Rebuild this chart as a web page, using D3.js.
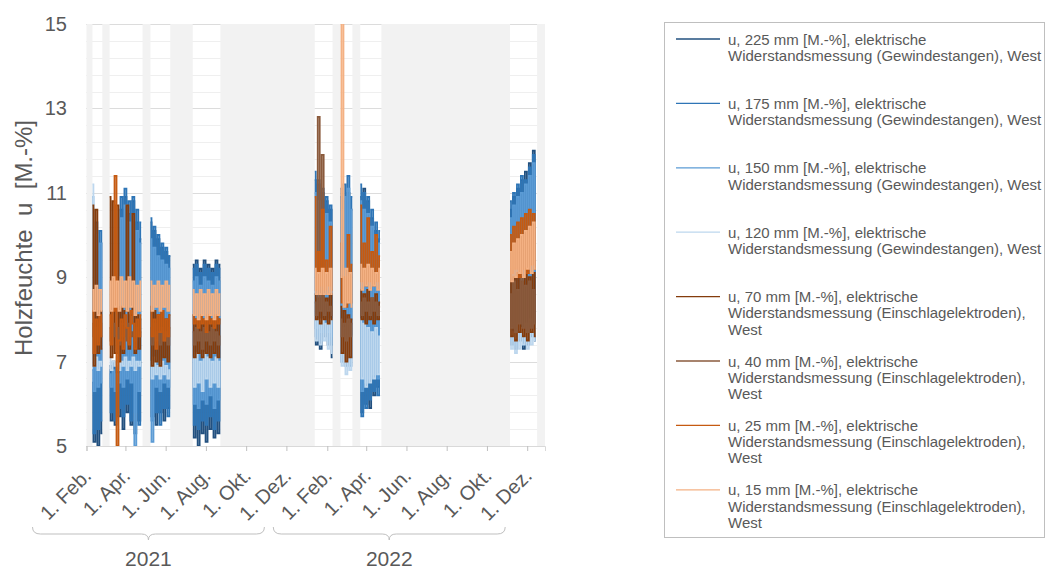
<!DOCTYPE html>
<html>
<head>
<meta charset="utf-8">
<script src="https://cdn.jsdelivr.net/npm/d3@7"></script>
<style>
  body { margin: 0; background: #fff; }
  svg { font-family: "Liberation Sans", Arial, sans-serif; }
  text { fill: #595959; }
</style>
</head>
<body>
<div id="chart"></div>
<script>
// measured periods (white bands); values are sampled every 3 days from the start of each period
const dataPeriods = [
  ['2021-02-10', '2021-02-25'], ['2021-03-08', '2021-04-27'], ['2021-05-09', '2021-06-08'],
  ['2021-07-12', '2021-08-23'], ['2022-01-13', '2022-02-09'], ['2022-02-21', '2022-03-11'],
  ['2022-03-23', '2022-04-24'], ['2022-11-05', '2022-12-16']
];
const stepDays = 3;

const tickDates = ['2021-02-01', '2021-04-01', '2021-06-01', '2021-08-01', '2021-10-01', '2021-12-01',
  '2022-02-01', '2022-04-01', '2022-06-01', '2022-08-01', '2022-10-01', '2022-12-01'];
const tickLabels = ['1. Feb.', '1. Apr.', '1. Jun.', '1. Aug.', '1. Okt.', '1. Dez.',
  '1. Feb.', '1. Apr.', '1. Jun.', '1. Aug.', '1. Okt.', '1. Dez.'];
const years = ['2021', '2022'];
const yTicks = [5, 7, 9, 11, 13, 15];

const seriesNames = [
  'u, 225 mm [M.-%], elektrische|Widerstandsmessung (Gewindestangen), West',
  'u, 175 mm [M.-%], elektrische|Widerstandsmessung (Gewindestangen), West',
  'u, 150 mm [M.-%], elektrische|Widerstandsmessung (Gewindestangen), West',
  'u, 120 mm [M.-%], elektrische|Widerstandsmessung (Gewindestangen), West',
  'u, 70 mm [M.-%], elektrische|Widerstandsmessung (Einschlagelektroden),|West',
  'u, 40 mm [M.-%], elektrische|Widerstandsmessung (Einschlagelektroden),|West',
  'u, 25 mm [M.-%], elektrische|Widerstandsmessung (Einschlagelektroden),|West',
  'u, 15 mm [M.-%], elektrische|Widerstandsmessung (Einschlagelektroden),|West'
];
const seriesColors = ['#22507f', '#2e75b6', '#5b9bd5', '#bdd7ee', '#843c0c', '#8a5a3c', '#c55a11', '#f4b183'];

const u225 = [
  [6.5, 5.1, 9.6, 5.0, 9.8, 5.3],
  [6.9, 5.6, 7.0, 5.5, 6.8, 5.7, 10.6, 5.4, 10.9, 5.8, 10.5, 5.5, 10.8, 5.3, 10.3, 5.6, 9.9],
  [10.3, 5.7, 10.1, 5.5, 9.9, 5.8, 9.7, 5.6, 9.6, 5.9, 9.5],
  [9.3, 5.2, 9.4, 5.0, 9.2, 5.3, 9.4, 5.1, 9.3, 5.4, 9.2, 5.2, 9.4, 5.3, 9.3],
  [11.3, 7.4, 11.2, 7.3, 11.0, 7.6, 10.8, 7.4, 10.6, 7.1],
  [11.1, 7.2, 10.8, 6.9, 11.0, 7.1, 10.6],
  [10.9, 5.8, 11.1, 6.0, 10.8, 5.9, 10.4, 6.2, 10.1, 6.4, 9.9],
  [10.6, 7.4, 10.9, 7.3, 11.1, 7.5, 11.3, 7.3, 11.5, 7.4, 11.7, 7.6, 12.0, 7.5]
];
const u175 = [
  [6.8, 5.3, 10.3, 5.4, 10.1, 5.6],
  [6.8, 5.8, 6.9, 5.6, 6.9, 5.9, 10.9, 5.7, 11.1, 6.0, 10.8, 5.6, 10.9, 5.8, 10.6, 5.5, 10.3],
  [10.4, 5.6, 10.2, 5.8, 10.0, 5.5, 9.8, 5.9, 9.7, 5.7, 9.5],
  [9.2, 5.5, 9.3, 5.4, 9.1, 5.6, 9.3, 5.5, 9.2, 5.7, 9.1, 5.4, 9.3, 5.6, 9.2],
  [11.5, 7.6, 11.3, 7.5, 11.1, 7.7, 10.9, 7.5, 10.7, 7.4],
  [10.9, 7.0, 11.2, 7.1, 11.4, 6.9, 10.9],
  [11.2, 5.7, 11.0, 5.9, 10.9, 6.1, 10.6, 6.3, 10.3, 6.2, 10.1],
  [10.8, 7.5, 11.0, 7.4, 11.2, 7.6, 11.4, 7.4, 11.3, 7.5, 11.6, 7.7, 11.9, 7.6]
];
const u150 = [
  [10.9, 6.3, 10.0, 6.4, 9.8, 6.5],
  [6.7, 6.4, 6.8, 6.3, 6.7, 6.5, 10.4, 6.4, 10.7, 6.6, 10.3, 6.5, 10.5, 5.0, 10.1, 6.3, 9.8],
  [9.9, 5.1, 9.7, 6.4, 9.5, 6.3, 9.4, 6.5, 9.3, 6.4, 9.2],
  [8.9, 6.0, 9.0, 5.9, 8.8, 6.1, 9.0, 6.0, 8.9, 6.2, 8.8, 5.9, 9.0, 6.1, 8.9],
  [11.0, 7.8, 10.8, 7.7, 10.6, 7.9, 10.5, 7.7, 10.3, 7.6],
  [10.6, 7.3, 10.9, 7.2, 11.1, 7.1, 10.6],
  [10.8, 6.3, 10.6, 6.5, 10.5, 6.6, 10.2, 6.7, 10.0, 6.6, 9.8],
  [10.4, 7.6, 10.7, 7.5, 10.9, 7.7, 11.0, 7.6, 11.2, 7.7, 11.4, 7.8, 11.7, 7.7]
];
const u120 = [
  [11.2, 6.9, 7.1, 6.8, 7.0, 6.9],
  [7.1, 6.8, 7.0, 6.9, 7.1, 6.8, 7.0, 6.9, 7.1, 6.8, 7.0, 6.9, 7.1, 6.8, 7.0, 6.9, 7.0],
  [7.0, 6.6, 7.1, 6.7, 6.9, 6.6, 7.0, 6.7, 6.9, 6.6, 6.8],
  [7.1, 6.4, 7.2, 6.5, 7.0, 6.3, 7.2, 6.6, 7.1, 6.4, 7.0, 6.5, 7.1, 6.4, 7.0],
  [8.1, 7.5, 8.0, 7.4, 8.0, 7.5, 7.9, 7.3, 8.0, 7.2],
  [8.0, 6.9, 7.8, 6.7, 7.9, 6.8, 7.6],
  [8.0, 6.6, 7.9, 6.4, 7.8, 6.5, 7.7, 6.6, 7.8, 6.7, 7.6],
  [7.8, 7.3, 7.7, 7.2, 7.9, 7.3, 7.8, 7.4, 7.9, 7.3, 8.0, 7.4, 7.9, 7.5]
];
const u70 = [
  [10.7, 6.9, 10.6, 7.2, 8.2, 7.3],
  [10.9, 7.1, 10.8, 7.2, 10.7, 7.0, 8.3, 7.2, 8.2, 10.7, 7.3, 8.1, 10.5, 7.2, 8.1, 7.3, 8.0],
  [8.3, 6.9, 8.2, 7.0, 8.1, 6.9, 8.2, 7.1, 8.0, 7.0, 8.1],
  [8.1, 7.1, 8.0, 7.2, 8.1, 7.1, 8.0, 7.2, 8.1, 7.1, 8.0, 7.2, 8.1, 7.1, 8.0],
  [8.6, 8.0, 8.5, 7.9, 8.6, 8.0, 8.5, 7.9, 8.6, 8.0],
  [8.3, 7.2, 8.2, 7.0, 8.1, 7.1, 8.0],
  [8.7, 8.0, 8.6, 7.9, 8.7, 8.0, 8.5, 7.9, 8.6, 8.0, 8.4],
  [9.2, 7.6, 9.0, 7.5, 9.1, 7.7, 8.9, 7.6, 9.2, 7.5, 9.0, 7.7, 9.1, 7.6]
];
const u40 = [
  [7.9, 7.6, 7.8, 7.5, 7.9, 7.6],
  [7.8, 7.5, 7.9, 7.6, 7.8, 7.4, 7.9, 7.6, 7.8, 7.5, 7.9, 7.6, 7.7, 7.5, 7.8, 7.6, 7.7],
  [7.8, 7.4, 7.9, 7.5, 7.7, 7.4, 7.8, 7.5, 7.7, 7.4, 7.8],
  [7.7, 7.4, 7.8, 7.5, 7.7, 7.3, 7.8, 7.5, 7.7, 7.4, 7.8, 7.5, 7.7, 7.4, 7.6],
  [8.4, 8.1, 12.8, 8.2, 11.9, 8.1, 8.4, 8.2, 8.3, 8.1],
  [8.0, 7.6, 7.9, 7.5, 8.0, 7.6, 7.9],
  [8.4, 8.1, 8.5, 8.2, 8.4, 8.1, 8.5, 8.2, 8.4, 8.1, 8.3],
  [8.6, 7.8, 8.9, 7.7, 8.7, 7.9, 9.0, 7.8, 8.8, 7.7, 8.9, 7.8, 8.7, 7.9]
];
const u25 = [
  [8.2, 7.2, 8.0, 7.4, 8.1, 7.6],
  [8.1, 7.4, 8.2, 11.4, 5.0, 7.5, 8.0, 7.3, 8.1, 7.8, 7.4, 8.2, 7.9, 7.3, 8.0, 7.6, 8.1],
  [8.2, 7.6, 8.0, 7.3, 8.1, 7.7, 8.2, 7.5, 8.0, 7.6, 8.1],
  [8.1, 7.9, 8.0, 7.8, 8.1, 7.9, 8.0, 7.7, 8.1, 7.9, 8.0, 7.8, 8.1, 7.9, 8.0],
  [10.9, 8.7, 9.6, 8.8, 10.6, 8.7, 9.4, 8.8, 10.2, 8.7],
  [9.8, 8.4, 9.0, 8.3, 10.0, 8.4, 9.3],
  [10.7, 8.9, 9.8, 8.8, 10.4, 8.9, 9.6, 8.8, 10.0, 8.9, 9.5],
  [10.0, 9.1, 10.2, 9.2, 10.3, 9.0, 10.4, 9.2, 10.5, 9.1, 10.6, 9.3, 10.5, 9.2]
];
const u15 = [
  [8.7, 8.2, 8.8, 8.1, 8.7, 8.2],
  [8.9, 8.2, 9.0, 8.3, 8.9, 8.2, 9.0, 8.3, 8.9, 8.2, 9.0, 8.3, 8.9, 8.1, 8.8, 8.2, 8.9],
  [8.9, 8.2, 8.8, 8.3, 8.9, 8.2, 8.8, 8.3, 8.9, 8.2, 8.8],
  [8.7, 8.1, 8.6, 8.0, 8.7, 8.1, 8.6, 8.0, 8.7, 8.1, 8.6, 8.0, 8.7, 8.1, 8.6],
  [9.2, 8.6, 9.1, 8.6, 9.2, 8.6, 9.1, 8.6, 9.2, 8.6],
  [9.0, 15.3, 8.3, 9.2, 8.4, 9.1, 8.3],
  [9.3, 8.7, 9.2, 8.8, 9.3, 8.7, 9.2, 8.8, 9.1, 8.7, 9.2],
  [9.6, 8.9, 9.8, 9.0, 9.9, 9.1, 10.0, 9.0, 10.1, 9.2, 10.2, 9.1, 10.3, 9.2]
];
const seriesValues = [u225, u175, u150, u120, u70, u40, u25, u15];

const parse = d3.utcParse('%Y-%m-%d');
const dims = { width: 1047, height: 570, left: 86, right: 545, top: 24, bottom: 446 };

const svg = d3.select('#chart').append('svg')
  .attr('width', dims.width)
  .attr('height', dims.height);

const xScale = d3.scaleUtc()
  .domain([parse('2021-02-01'), parse('2022-12-28')])
  .range([dims.left + 0.5, dims.right]);

const yScale = d3.scaleLinear()
  .domain([5, 15])
  .range([dims.bottom, dims.top]);

// plot background + grid
svg.append('rect')
  .attr('x', dims.left).attr('y', dims.top)
  .attr('width', dims.right - dims.left).attr('height', dims.bottom - dims.top)
  .attr('fill', '#fff');

const minorGrid = d3.range(0, 26).map(i => 5 + i * 0.4);
svg.append('g').selectAll('line')
  .data(minorGrid)
  .join('line')
  .attr('x1', dims.left).attr('x2', dims.right)
  .attr('y1', d => Math.round(yScale(d)) + 0.5)
  .attr('y2', d => Math.round(yScale(d)) + 0.5)
  .attr('stroke', d => yTicks.some(t => Math.abs(t - d) < 1e-6) ? '#dcdcdc' : '#efefef')
  .attr('stroke-width', 1);

// grey shading where no data was recorded
const [d0, d1] = xScale.domain();
const gaps = [];
let cursor = d0;
dataPeriods.forEach(p => {
  gaps.push([cursor, parse(p[0])]);
  cursor = parse(p[1]);
});
gaps.push([cursor, d1]);

svg.append('g').selectAll('rect')
  .data(gaps)
  .join('rect')
  .attr('x', d => xScale(d[0]))
  .attr('y', dims.top)
  .attr('width', d => Math.max(0, xScale(d[1]) - xScale(d[0])))
  .attr('height', dims.bottom - dims.top)
  .attr('fill', '#f2f2f2');

svg.append('clipPath').attr('id', 'plot-clip')
  .append('rect')
  .attr('x', dims.left).attr('y', dims.top)
  .attr('width', dims.right - dims.left).attr('height', dims.bottom - dims.top);

// hourly readings look like dense vertical strokes at this scale: step curve keeps that look
const line = d3.line()
  .curve(d3.curveStep)
  .x(d => xScale(d.date))
  .y(d => yScale(d.value));

const linesGroup = svg.append('g').attr('clip-path', 'url(#plot-clip)');
seriesValues.forEach((segments, si) => {
  segments.forEach((vals, k) => {
    const start = parse(dataPeriods[k][0]);
    const pts = vals.map((v, i) => ({ date: d3.utcDay.offset(start, i * stepDays), value: v }));
    linesGroup.append('path')
      .datum(pts)
      .attr('d', line)
      .attr('fill', 'none')
      .attr('stroke', seriesColors[si])
      .attr('stroke-width', 1.8);
  });
});

// x axis
const xAxis = d3.axisBottom(xScale)
  .tickValues(tickDates.map(parse))
  .tickSize(5)
  .tickFormat('');
const xAxisGroup = svg.append('g')
  .attr('transform', `translate(0, ${dims.bottom})`)
  .call(xAxis);
xAxisGroup.select('.domain').attr('stroke', '#d9d9d9');
xAxisGroup.selectAll('.tick line').attr('stroke', '#bfbfbf');

svg.append('g').selectAll('text')
  .data(tickDates)
  .join('text')
  .attr('transform', d => `translate(${xScale(parse(d)) + 6}, 477) rotate(-45)`)
  .attr('text-anchor', 'end')
  .style('font-size', '20px')
  .text((d, i) => tickLabels[i]);

// year braces
const braceY = 527;
years.forEach(yr => {
  const left = xScale(parse(yr + '-02-01')) - 54;
  const right = xScale(parse(yr + '-12-01')) - 22;
  const mid = (left + right) / 2;
  const path = d3.path();
  path.moveTo(left, braceY);
  path.quadraticCurveTo(left, braceY + 7, left + 8, braceY + 7);
  path.lineTo(mid - 7, braceY + 7);
  path.quadraticCurveTo(mid, braceY + 7, mid, braceY + 13);
  path.quadraticCurveTo(mid, braceY + 7, mid + 7, braceY + 7);
  path.lineTo(right - 8, braceY + 7);
  path.quadraticCurveTo(right, braceY + 7, right, braceY);
  svg.append('path')
    .attr('d', path.toString())
    .attr('fill', 'none')
    .attr('stroke', '#bfbfbf')
    .attr('stroke-width', 1);
  svg.append('text')
    .attr('x', mid)
    .attr('y', 566)
    .attr('text-anchor', 'middle')
    .style('font-size', '21px')
    .text(yr);
});

// y labels
svg.append('g').selectAll('text')
  .data(yTicks)
  .join('text')
  .attr('x', 67)
  .attr('y', d => yScale(d))
  .attr('dy', '0.35em')
  .attr('text-anchor', 'end')
  .style('font-size', '20px')
  .text(d => d);

svg.append('text')
  .attr('transform', `translate(32, 238) rotate(-90)`)
  .attr('text-anchor', 'middle')
  .attr('xml:space', 'preserve')
  .style('white-space', 'pre')
  .style('font-size', '24px')
  .text('Holzfeuchte  u  [M.-%]');

// legend
const legend = svg.append('g');
legend.append('rect')
  .attr('x', 664.5).attr('y', 22.5)
  .attr('width', 380).attr('height', 515)
  .attr('fill', '#fff')
  .attr('stroke', '#bfbfbf');

const items = legend.selectAll('g.item')
  .data(seriesNames)
  .join('g')
  .attr('class', 'item')
  .attr('transform', (d, i) => `translate(0, ${39 + i * 64.4})`);

items.append('line')
  .attr('x1', 676).attr('x2', 720)
  .attr('y1', 0).attr('y2', 0)
  .attr('stroke', (d, i) => seriesColors[i])
  .attr('stroke-width', 1.3);

items.append('text')
  .style('font-size', '15px')
  .selectAll('tspan')
  .data(d => d.split('|'))
  .join('tspan')
  .attr('x', 728)
  .attr('y', (d, j) => 5.5 + j * 16.3)
  .text(d => d);
</script>
</body>
</html>
